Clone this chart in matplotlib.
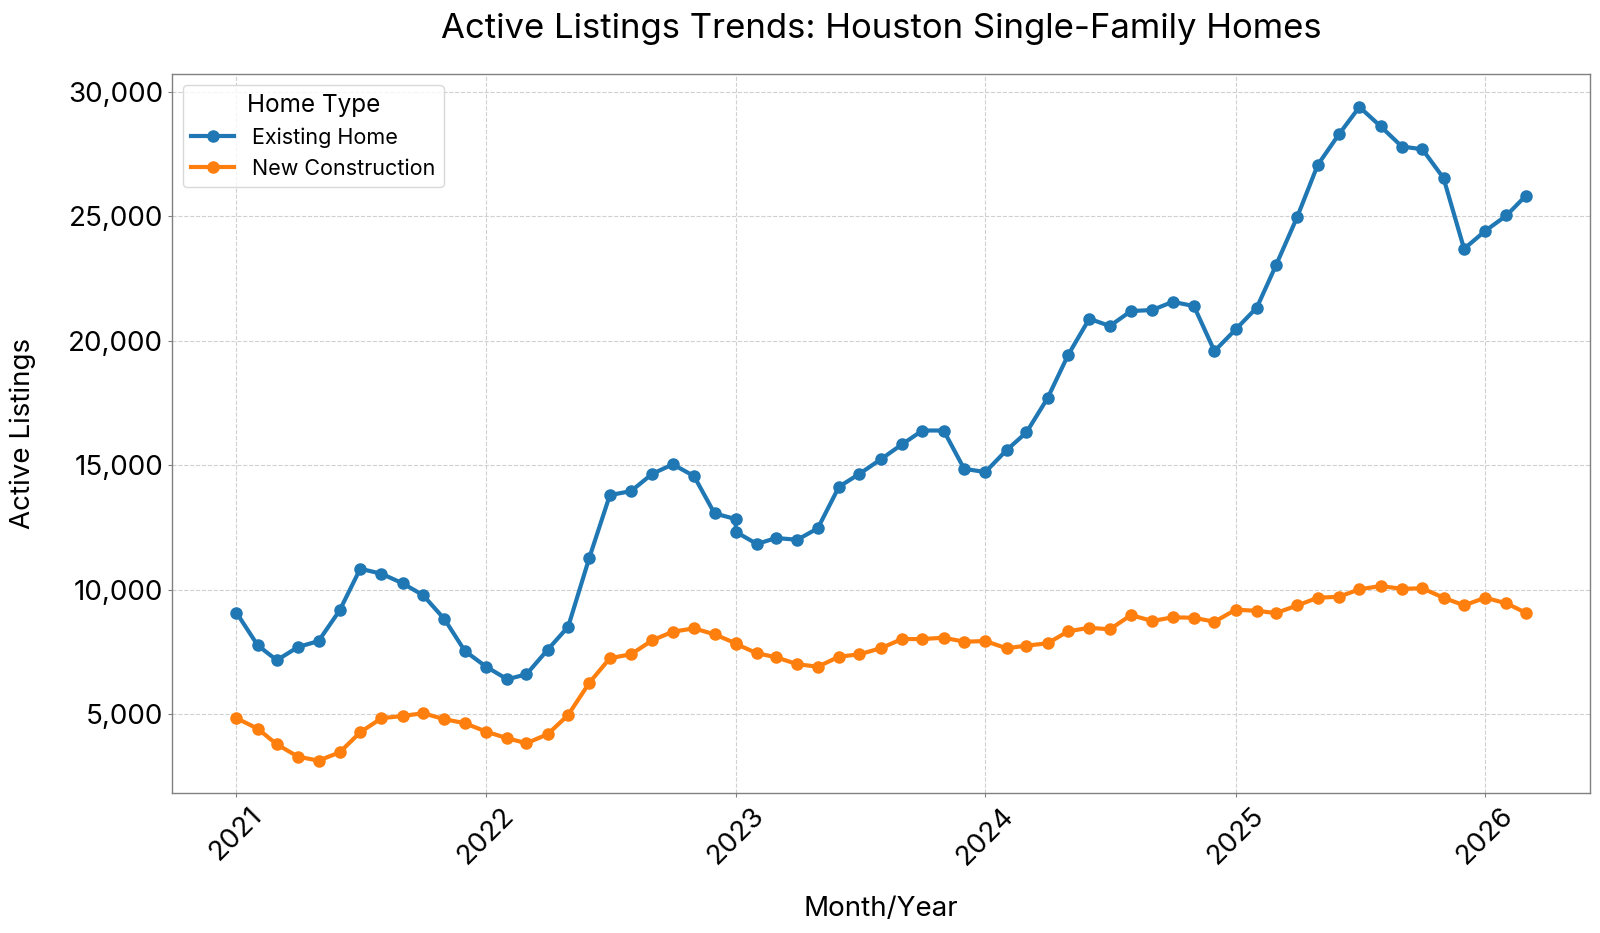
import matplotlib
matplotlib.use("Agg")
import matplotlib.pyplot as plt
import matplotlib.dates as mdates
from matplotlib.ticker import FuncFormatter
import pandas as pd

plt.rcParams['font.family'] = ['Inter', 'DejaVu Sans']

# Monthly dates Jan 2021 - Mar 2026 (Jan 2023 appears twice in the source)
months = list(pd.date_range('2021-01-01', '2026-03-01', freq='MS'))
dup_index = months.index(pd.Timestamp('2023-01-01'))
dates = months[:dup_index + 1] + [pd.Timestamp('2023-01-01')] + months[dup_index + 1:]

existing_home = [
    9070, 7760, 7160, 7690, 7930, 9165, 10835, 10635, 10250, 9770, 8815, 7530,
    6900, 6395, 6595, 7580, 8505, 11280, 13795, 13955, 14650, 15030, 14560, 13060,
    12830, 12320, 11830, 12070, 12000, 12460, 14130, 14650, 15230, 15830, 16390, 16390, 14850,
    14720, 15600, 16310, 17690, 19420, 20880, 20590, 21190, 21230, 21560, 21390, 19580,
    20450, 21330, 23030, 24970, 27060, 28290, 29390, 28610, 27800, 27690, 26530, 23690,
    24410, 25030, 25815,
]
new_construction = [
    4830, 4410, 3780, 3285, 3125, 3460, 4265, 4830, 4920, 5030, 4790, 4630,
    4290, 4025, 3825, 4185, 4960, 6255, 7240, 7400, 7960, 8305, 8440, 8200,
    7840, 7820, 7440, 7280, 7000, 6900, 7300, 7400, 7640, 8010, 8010, 8065, 7905,
    7930, 7640, 7745, 7840, 8320, 8465, 8400, 8975, 8735, 8885, 8865, 8705,
    9190, 9145, 9055, 9360, 9670, 9710, 10010, 10140, 10030, 10050, 9670, 9365,
    9670, 9445, 9070,
]
series_names = ['Existing Home', 'New Construction']
series_colors = ['#1f77b4', '#ff7f0e']

fig = plt.figure(figsize=(16, 9.33), dpi=100)
ax = fig.add_axes([0.1075, 0.1497, 0.8863, 0.7707])

for name, vals, col in zip(series_names, [existing_home, new_construction], series_colors):
    ax.plot(dates, vals, color=col, linewidth=3, marker='o', markersize=8, label=name)

ax.xaxis.set_major_locator(mdates.YearLocator())
ax.xaxis.set_major_formatter(mdates.DateFormatter('%Y'))
ax.yaxis.set_major_formatter(FuncFormatter(lambda v, p: f'{int(v):,}'))

ax.grid(True, linestyle='--', color='#d0d0d0', linewidth=0.8)
ax.set_axisbelow(True)
for s in ax.spines.values():
    s.set_color('#808080')
    s.set_linewidth(1.0)

ax.tick_params(axis='both', labelsize=20, length=3, color='#808080')
plt.setp(ax.get_xticklabels(), rotation=45, ha='center')

ax.set_title('Active Listings Trends: Houston Single-Family Homes', fontsize=25, pad=26)
ax.set_xlabel('Month/Year', fontsize=20, labelpad=19)
ax.set_ylabel('Active Listings', fontsize=20, labelpad=23)

leg = ax.legend(title='Home Type', loc='upper left', fontsize=15.5, title_fontsize=17.5,
                frameon=True, edgecolor='#d0d0d0', fancybox=True)

fig.savefig('out.png', dpi=100)
